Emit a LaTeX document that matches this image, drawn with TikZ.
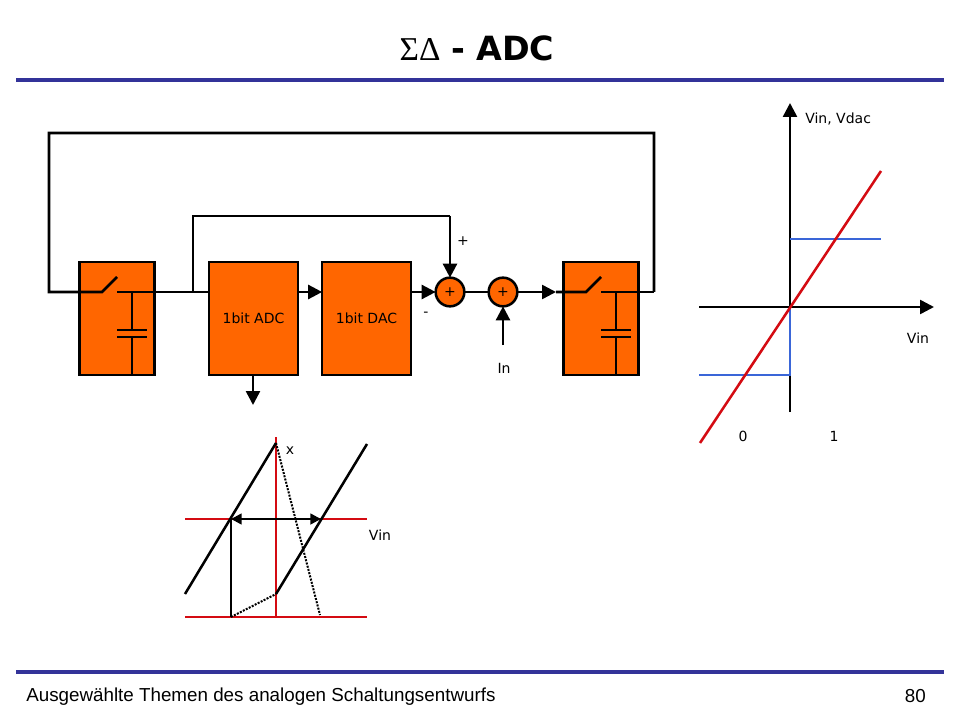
\documentclass[tikz,border=0pt]{standalone}
\usepackage{fontspec}
\usetikzlibrary{arrows.meta}
\setmainfont{DejaVu Sans}
\newfontfamily\footfont{Liberation Sans}
\newfontfamily\greekfont{Liberation Serif}
\definecolor{rulecol}{HTML}{333399}
\definecolor{blockcol}{HTML}{FF6600}
\definecolor{redcol}{HTML}{D40B12}
\definecolor{bluecol}{HTML}{3A66D8}
\tikzset{
	wire/.style={line width=1.9pt},
	sig/.style={wire,-{Triangle[length=10.5pt,width=10.5pt]}},
	block/.style={draw,wire,fill=blockcol,outer sep=0pt,minimum height=84.5pt},
	adder/.style={draw,wire,fill=blockcol,circle,outer sep=0pt,minimum size=21.5pt,inner sep=0pt},
	lab/.style={font=\fontsize{10.5}{12}\selectfont,inner sep=0pt},
	redline/.style={line width=1.9pt,draw=redcol},
	blueline/.style={line width=1.9pt,draw=bluecol},
	rule/.style={line width=3pt,draw=rulecol}
}
\begin{document}
\begin{tikzpicture}[x=0.75pt,y=-0.75pt]

	\useasboundingbox (0,0) rectangle (960,720);

	\node[inner sep=0pt] (title) at (477,48) {\fontsize{25}{30}\selectfont{\greekfont ΣΔ} \textbf{- ADC}};
	\coordinate (ruletl) at (16,80);
	\coordinate (ruletr) at (944,80);
	\draw[rule] (ruletl) -- (ruletr);
	\coordinate (rulebl) at (16,672);
	\coordinate (rulebr) at (944,672);
	\draw[rule] (rulebl) -- (rulebr);
	\node[anchor=west,inner sep=0pt] (foottext) at (26,697) {\footfont\fontsize{14.1}{17}\selectfont Ausgewählte Themen des analogen Schaltungsentwurfs};
	\node[anchor=east,inner sep=0pt] (footnum) at (926,696) {\footfont\fontsize{14.1}{17}\selectfont 80};

	\coordinate (rail) at (49,292);

	\node[block,minimum width=56pt] (holdl) at (117,318.5) {};
	\node[block,minimum width=66.5pt,lab] (adc) at (253.5,318.5) {1bit ADC};
	\node[block,minimum width=66.5pt,lab] (dac) at (366.5,318.5) {1bit DAC};
	\node[block,minimum width=56pt] (holdr) at (601,318.5) {};
	\node[adder,lab] (suma) at (450,292) {+};
	\node[adder,lab] (sumb) at (503,292) {+};

	\coordinate (swla) at (102,292);
	\coordinate (swlt) at (117,277);
	\coordinate (swlc) at (117,292);
	\coordinate (capl) at (132,292);
	\coordinate (swra) at (586,292);
	\coordinate (swrt) at (601,277);
	\coordinate (swrc) at (601,292);
	\coordinate (capr) at (616,292);
	\coordinate (loopl) at (49,133);
	\coordinate (loopr) at (654,133);
	\coordinate (loopre) at (654,292);
	\coordinate (tapl) at (193,292);
	\coordinate (tapt) at (193,216);
	\coordinate (tapr) at (450,216);
	\coordinate (infoot) at (503,345);
	\coordinate (adcout) at (253,405);
	\coordinate (holdtip) at (556,292);

	\draw[wire] (loopre) -- (loopr) -- (loopl) -- (rail) -- (swla) -- (swlt);
	\draw[wire] (swlc) -- (adc.west |- rail);
	\draw[wire] (tapl) -- (tapt) -- (tapr);
	\draw[sig] (tapr) -- (suma.north);
	\draw[sig] (adc.east |- rail) -- (dac.west |- rail);
	\draw[sig] (dac.east |- rail) -- (suma.west);
	\draw[wire] (suma) -- (sumb);
	\draw[sig] (infoot) -- (sumb.south);
	\draw[sig] (sumb.east) -- (holdtip);
	\draw[wire] (holdtip) -- (swra) -- (swrt);
	\draw[wire] (swrc) -- (loopre);
	\draw[sig] (adc.south) ++(-0.5,0) -- (adcout);

	\draw[wire] (capl) -- (132,330) (117,330) -- (147,330);
	\draw[wire] (117,337) -- (147,337) (132,337) -- (holdl.south -| capl);
	\draw[wire] (capr) -- (616,330) (601,330) -- (631,330);
	\draw[wire] (601,337) -- (631,337) (616,337) -- (holdr.south -| capr);

	\node[lab] (plus) at (463,241) {+};
	\node[lab] (minus) at (426,314) {-};
	\node[lab] (inlab) at (504,368) {In};

	\coordinate (vtop) at (276,437);
	\coordinate (vbot) at (276,617);
	\coordinate (hal) at (185,519);
	\coordinate (har) at (367,519);
	\coordinate (hbl) at (185,617);
	\coordinate (hbr) at (367,617);
	\coordinate (dla) at (185,594);
	\coordinate (dlb) at (276,443);
	\coordinate (dra) at (276,594);
	\coordinate (drb) at (367,444);
	\coordinate (ml) at (231,519);
	\coordinate (mr) at (321,519);
	\coordinate (mb) at (231,617);
	\coordinate (me) at (320,615);

	\draw[redline] (vtop) -- (vbot);
	\draw[redline] (hal) -- (har);
	\draw[redline] (hbl) -- (hbr);
	\draw[wire] (dla) -- (dlb);
	\draw[wire] (dra) -- (drb);
	\draw[wire] (ml) -- (mb);
	\draw[wire,{Triangle[length=8pt,width=8pt]}-{Triangle[length=8pt,width=8pt]}] (ml) -- (mr);
	\draw[line width=1.5pt,densely dotted] (mb) -- (dra);
	\draw[line width=1.5pt,densely dotted] (dlb) -- (me);
	\node[lab] (xlab) at (290,451) {x};
	\node[lab] (vinb) at (380,535) {Vin};

	\coordinate (axyb) at (790,412);
	\coordinate (axyt) at (790,103);
	\coordinate (axxl) at (699,307);
	\coordinate (axxr) at (934,307);
	\coordinate (org) at (790,307);
	\coordinate (reda) at (700,443);
	\coordinate (redb) at (881,171);
	\coordinate (blua) at (790,239);
	\coordinate (blub) at (881,239);
	\coordinate (bluc) at (699,375);
	\coordinate (blud) at (790,375);

	\draw[sig] (axyb) -- (axyt);
	\draw[sig] (axxl) -- (axxr);
	\draw[blueline] (blua) -- (blub);
	\draw[blueline] (bluc) -- (blud) -- (org);
	\draw[redline] (reda) -- (redb);
	\node[lab,anchor=west] (vinv) at (805,119) {Vin, Vdac};
	\node[lab] (vinr) at (918,338) {Vin};
	\node[lab] (zero) at (743,436) {0};
	\node[lab] (one) at (834,436) {1};

\end{tikzpicture}
\end{document}
